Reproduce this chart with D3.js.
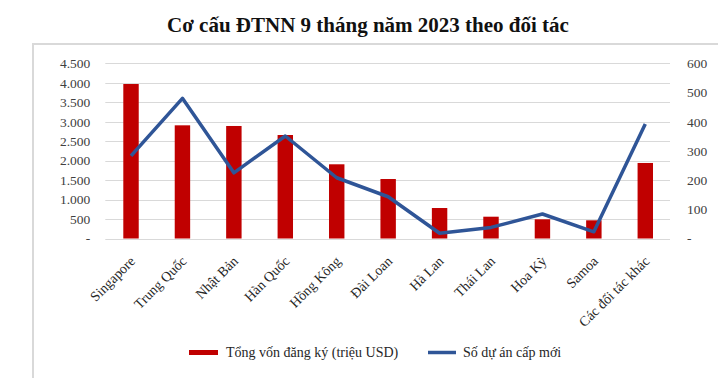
<!DOCTYPE html>
<meta charset="utf-8">
<style>
body { margin: 0; background: #fff; }
svg text { font-family: "Liberation Serif", "DejaVu Serif", serif !important; }
.tick text { fill: #404040; font-size: 13.5px; }
</style>
<svg width="718" height="378"></svg>
<script src="https://d3js.org/d3.v7.min.js"></script>
<script>

// data
var partners = ["Singapore", "Trung Quốc", "Nhật Bản", "Hàn Quốc", "Hồng Kông", "Đài Loan",
                "Hà Lan", "Thái Lan", "Hoa Kỳ", "Samoa", "Các đối tác khác"];
var capital = [3968, 2907, 2890, 2658, 1906, 1528, 783, 560, 493, 467, 1940];   // triệu USD
var projects = [283, 480, 225, 351, 208, 143, 18, 38, 84, 23, 392];
var leftTicks = [0, 500, 1000, 1500, 2000, 2500, 3000, 3500, 4000, 4500];
var rightTicks = [0, 100, 200, 300, 400, 500, 600];

var serif = "'Liberation Serif', 'DejaVu Serif', serif";
var svg = d3.select("svg");

var x0 = 105.3, x1 = 671, yTop = 63.3, yBot = 238.5;

var x = d3.scaleBand().domain(partners).range([x0, x1]).paddingInner(0.7).paddingOuter(0.35),
    xc = d3.scalePoint().domain(partners).range([x0, x1]).padding(0.5),
    y = d3.scaleLinear().domain([0, 4500]).range([yBot, yTop]),
    y2 = d3.scaleLinear().domain([0, 600]).range([yBot, yTop]);

// frame
svg.append("rect")
    .attr("x", 33).attr("y", 44)
    .attr("width", 700).attr("height", 350)
    .attr("fill", "#fff")
    .attr("stroke", "#d9d9d9")
    .attr("stroke-width", 2);

// title
svg.append("text")
    .attr("x", 368).attr("y", 32)
    .attr("text-anchor", "middle")
    .attr("font-family", serif)
    .attr("font-weight", "bold")
    .attr("font-size", "21px")
    .attr("fill", "#111")
    .text("Cơ cấu ĐTNN 9 tháng năm 2023 theo đối tác");

var fmt = function(d) { return d === 0 ? "-" : d3.format(",")(d).replace(/,/g, "."); };

// grid
svg.append("g")
    .selectAll("line")
    .data(leftTicks)
    .join("line")
      .attr("x1", x0).attr("x2", x1 - 1)
      .attr("y1", function(d) { return Math.round(y(d)) + 0.5; })
      .attr("y2", function(d) { return Math.round(y(d)) + 0.5; })
      .attr("stroke", "#d9d9d9")
      .attr("stroke-width", 1.2);

var yAxis = svg.append("g")
    .attr("transform", "translate(" + (x0 - 15) + ",0)")
    .call(d3.axisLeft(y).tickValues(leftTicks).tickFormat(fmt).tickSize(0).tickPadding(0));
yAxis.attr("font-family", serif).select(".domain").remove();

var yAxis2 = svg.append("g")
    .attr("transform", "translate(" + (x1 + 16) + ",0)")
    .call(d3.axisRight(y2).tickValues(rightTicks).tickFormat(fmt).tickSize(0).tickPadding(0));
yAxis2.attr("font-family", serif).select(".domain").remove();

// bars
svg.append("g")
    .selectAll("rect")
    .data(partners)
    .join("rect")
      .attr("x", function(d) { return x(d); })
      .attr("y", function(d, i) { return y(capital[i]); })
      .attr("width", x.bandwidth())
      .attr("height", function(d, i) { return yBot - y(capital[i]); })
      .attr("fill", "#c00000");

// line
var line = d3.line()
    .x(function(d) { return xc(d.p); })
    .y(function(d) { return y2(d.v); });

svg.append("path")
    .datum(partners.map(function(p, i) { return {p: p, v: projects[i]}; }))
    .attr("d", line)
    .attr("fill", "none")
    .attr("stroke", "#2f5597")
    .attr("stroke-width", 3.5)
    .attr("stroke-linejoin", "round");

// category labels
svg.append("g")
    .attr("font-family", serif)
    .selectAll("text")
    .data(partners)
    .join("text")
      .attr("transform", function(d) { return "translate(" + (xc(d) + 5) + ",262) rotate(-45)"; })
      .attr("text-anchor", "end")
      .attr("font-size", "14px")
      .attr("fill", "#262626")
      .text(function(d) { return d; });

// legend
var lg = svg.append("g").attr("font-family", serif).attr("font-size", "14px").attr("fill", "#262626");
lg.append("rect")
    .attr("x", 189).attr("y", 350).attr("width", 29).attr("height", 5)
    .attr("fill", "#c00000");
lg.append("text").attr("x", 226).attr("y", 357).text("Tổng vốn đăng ký (triệu  USD)");
lg.append("line")
    .attr("x1", 428).attr("x2", 456).attr("y1", 352.5).attr("y2", 352.5)
    .attr("stroke", "#2f5597").attr("stroke-width", 3.5);
lg.append("text").attr("x", 463).attr("y", 357).text("Số dự án cấp mới");

</script>
